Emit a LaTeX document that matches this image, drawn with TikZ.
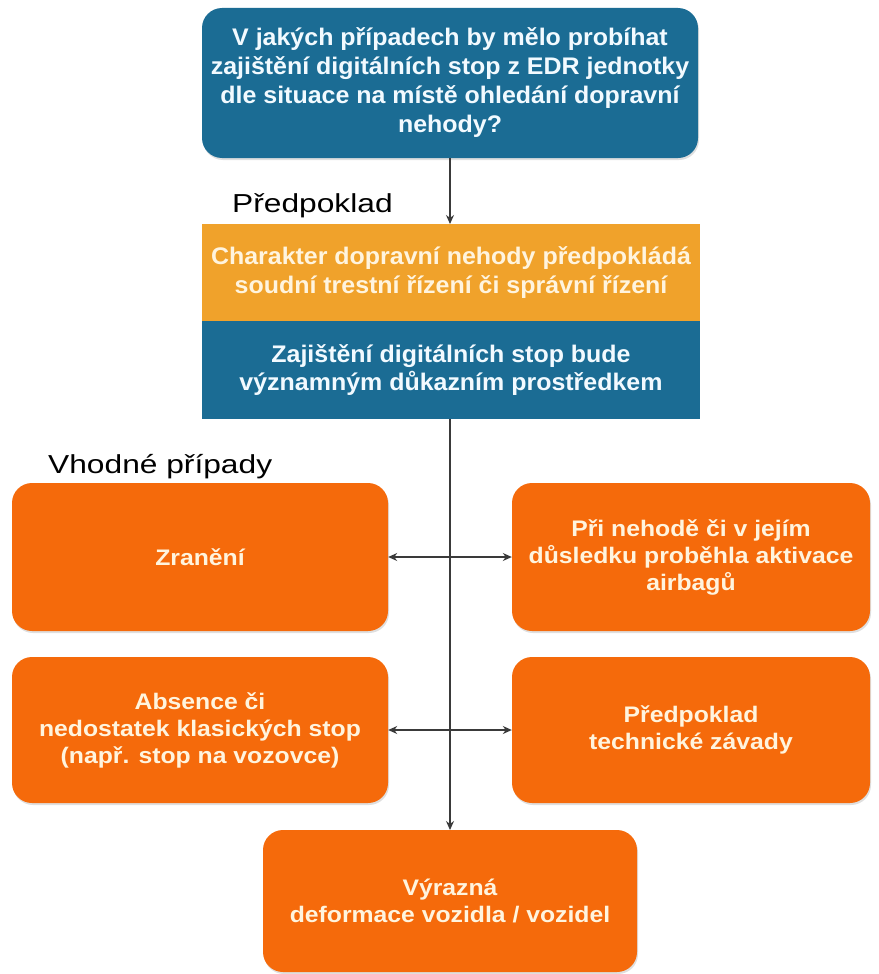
\documentclass[tikz,border=0pt]{standalone}
\usepackage{fontspec}
\setmainfont{Liberation Sans}
\newfontfamily\topbold[FakeStretch=1.04]{Liberation Sans Bold}
\newfontfamily\casebold[FakeStretch=1.1]{Liberation Sans Bold}
\newfontfamily\lblfont[FakeStretch=1.22]{Liberation Sans}
\usetikzlibrary{arrows.meta,shadows}
\definecolor{topblue}{HTML}{1B6C94}
\definecolor{amber}{HTML}{F0A22B}
\definecolor{brorange}{HTML}{F56A0B}
\definecolor{cream}{HTML}{FFF4DE}
\definecolor{paleblue}{HTML}{F2FAFF}
\definecolor{linegray}{HTML}{3A3A3A}
\tikzset{
  bluebox/.style={fill=topblue, rounded corners=20pt, text=paleblue, font=\topbold\fontsize{24}{29}\selectfont, align=center, inner sep=0pt, drop shadow={opacity=0.25, shadow xshift=1pt, shadow yshift=-2pt}},
  rectbox/.style={inner sep=0pt, align=center, font=\topbold\fontsize{24}{29.5}\selectfont},
  casebox/.style={fill=brorange, rounded corners=20pt, text=cream, font=\casebold\fontsize{22.5}{27}\selectfont, align=center, inner sep=0pt, drop shadow={opacity=0.25, shadow xshift=1pt, shadow yshift=-2pt}},
  lbl/.style={font=\lblfont\fontsize{26}{28}\selectfont, anchor=base west, inner sep=0pt},
  conn/.style={draw=linegray, line width=1.1pt, -{Stealth[length=9pt,width=8pt]}},
  dconn/.style={draw=linegray, line width=1.1pt, {Stealth[length=9pt,width=8pt]}-{Stealth[length=9pt,width=8pt]}}
}
\begin{document}
\begin{tikzpicture}[x=1pt,y=-1pt]
\useasboundingbox (0,0) rectangle (878,974);
\fill[white] (0,0) rectangle (878,974);

\node[bluebox, minimum width=496pt, minimum height=150pt] (q) at (450,83)
  {V jakých případech by mělo probíhat\\zajištění digitálních stop z EDR jednotky\\dle situace na místě ohledání dopravní\\nehody?};

\node[rectbox, fill=amber, text=cream, minimum width=498pt, minimum height=97pt] (a) at (451,272.5)
  {Charakter dopravní nehody předpokládá\\soudní trestní řízení či správní řízení};
\node[rectbox, fill=topblue, text=paleblue, minimum width=498pt, minimum height=98pt, font=\topbold\fontsize{24}{28.5}\selectfont] (b) at (451,370)
  {Zajištění digitálních stop bude\\významným důkazním prostředkem};

\node[lbl] (l1) at (232,212) {Předpoklad};
\node[lbl] (l2) at (48,473) {Vhodné případy};

\node[casebox, minimum width=376pt, minimum height=148pt] (z) at (200,557) {Zranění};
\node[casebox, minimum width=358pt, minimum height=148pt] (r) at (691,557) {Při nehodě či v jejím\\důsledku proběhla aktivace\\airbagů};
\node[casebox, minimum width=376pt, minimum height=146pt] (ab) at (200,730) {Absence či\\nedostatek klasických stop\\(např. stop na vozovce)};
\node[casebox, minimum width=358pt, minimum height=146pt] (t) at (691,730) {Předpoklad\\technické závady};
\node[casebox, minimum width=374pt, minimum height=142pt] (v) at (450,901) {Výrazná\\deformace vozidla / vozidel};

\coordinate (qs) at (450,158);
\coordinate (at) at (450,224);
\coordinate (bs) at (450,419);
\coordinate (vt) at (450,830);
\draw[conn] (qs) -- (at);
\draw[conn] (bs) -- (vt);
\draw[dconn] (z.east) -- (r.west);
\draw[dconn] (ab.east) -- (t.west);
\end{tikzpicture}
\end{document}
